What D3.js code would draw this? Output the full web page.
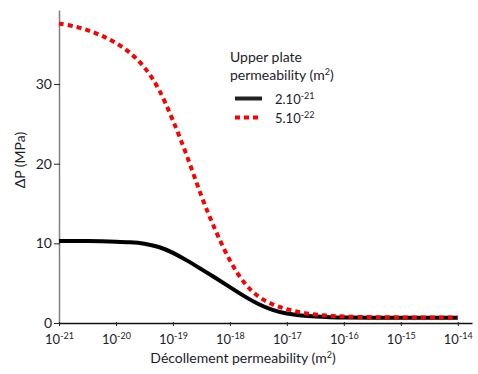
<!DOCTYPE html>
<html>
<head>
<meta charset="utf-8">
<script src="https://cdn.jsdelivr.net/npm/d3@7"></script>
<style>
  body { margin: 0; background: #fff; }
  text { font-family: Lato, "Open Sans", sans-serif; fill: #1c1c2c; }
</style>
</head>
<body>
<div id="chart"></div>
<script>
// exponent of decollement permeability (10^x m2)
const logK = [-21, -20.75, -20.5, -20.25, -20, -19.75, -19.5, -19.25, -19, -18.75, -18.5, -18.25,
  -18, -17.75, -17.5, -17.25, -17, -16.75, -16.5, -16.25, -16, -15.5, -15, -14.5, -14];
// upper plate permeability 2.10^-21
const dpHigh = [10.3, 10.3, 10.3, 10.25, 10.2, 10.15, 10.0, 9.6, 8.85, 7.85, 6.75, 5.65,
  4.5, 3.35, 2.35, 1.6, 1.15, 0.92, 0.8, 0.72, 0.67, 0.65, 0.65, 0.65, 0.65];
// upper plate permeability 5.10^-22
const dpLow = [37.6, 37.3, 36.8, 36.1, 35.2, 34.0, 32.2, 29.6, 25.5, 21.0, 15.8, 11.5,
  7.7, 4.9, 3.2, 2.3, 1.7, 1.3, 1.05, 0.9, 0.8, 0.72, 0.7, 0.7, 0.7];
const xTicks = [-21, -20, -19, -18, -17, -16, -15, -14];
const yTicks = [0, 10, 20, 30];

const W = 478, H = 374;
const svg = d3.select('#chart').append('svg')
  .attr('width', W).attr('height', H);

const x = d3.scaleLog()
  .domain([1e-21, Math.pow(10, -13.75)])
  .range([59, 472]);
const y = d3.scaleLinear()
  .domain([0, 39.3])
  .range([323, 10]);

// y axis (grey line)
const yAx = svg.append('g')
  .attr('transform', 'translate(59,0)')
  .call(d3.axisLeft(y).tickValues(yTicks).tickSize(5).tickSizeOuter(0).tickPadding(2));
yAx.select('.domain').attr('stroke', '#808080').attr('stroke-width', 1.5);
yAx.selectAll('.tick line').attr('stroke', '#222').attr('x2', -5).attr('x1', 1);
yAx.selectAll('.tick text').attr('font-size', 14).attr('fill', '#1c1c2c')
  .attr('font-family', 'Lato, sans-serif');

// x axis
const xAx = svg.append('g')
  .attr('transform', 'translate(0,323)')
  .call(d3.axisBottom(x).tickValues(xTicks.map(e => Math.pow(10, e)))
    .tickSize(3).tickSizeOuter(0).tickPadding(9).tickFormat(''));
xAx.select('.domain').attr('stroke', '#111').attr('stroke-width', 1.3);
xAx.selectAll('.tick line').attr('stroke', '#222').attr('y1', -1);
xAx.selectAll('.tick text')
  .data(xTicks)
  .attr('font-size', 13).attr('font-family', 'Lato, sans-serif').attr('fill', '#1c1c2c')
  .each(function (e) {
    const t = d3.select(this);
    t.append('tspan').text('10');
    t.append('tspan').attr('font-size', 9).attr('dy', -5).text(e);
  });

// curves
const line = (vals) => d3.line()
  .x((d, i) => x(Math.pow(10, logK[i])))
  .y(d => y(d))
  .curve(d3.curveBasis)(vals);

svg.append('path')
  .attr('d', line(dpHigh))
  .attr('fill', 'none')
  .attr('stroke', '#000')
  .attr('stroke-width', 4);

svg.append('path')
  .attr('d', line(dpLow))
  .attr('fill', 'none')
  .attr('stroke', '#ff0000')
  .attr('stroke-width', 4)
  .attr('stroke-dasharray', '5,4');

// axis titles
const xt = svg.append('text')
  .attr('x', 243).attr('y', 363)
  .attr('text-anchor', 'middle')
  .attr('font-size', 14);
xt.append('tspan').text('Décollement permeability (m');
xt.append('tspan').attr('font-size', 9).attr('dy', -5).text('2');
xt.append('tspan').attr('dy', 5).text(')');

svg.append('text')
  .attr('transform', 'translate(25,160) rotate(-90)')
  .attr('text-anchor', 'middle')
  .attr('font-size', 14)
  .text('ΔP (MPa)');

// legend
const lg = svg.append('g');
lg.append('text').attr('x', 230).attr('y', 62).attr('font-size', 14).text('Upper plate');
const l2 = lg.append('text').attr('x', 230).attr('y', 80).attr('font-size', 14);
l2.append('tspan').text('permeability (m');
l2.append('tspan').attr('font-size', 9).attr('dy', -5).text('2');
l2.append('tspan').attr('dy', 5).text(')');

const legendItems = [
  { base: '2.10', exp: '-21', color: '#222', dash: null },
  { base: '5.10', exp: '-22', color: '#ff0000', dash: '5,4' }
];
legendItems.forEach((d, i) => {
  const yy = 98.5 + i * 19;
  lg.append('line')
    .attr('x1', 235).attr('x2', 262).attr('y1', yy).attr('y2', yy)
    .attr('stroke', d.color).attr('stroke-width', 4)
    .attr('stroke-dasharray', d.dash);
  const t = lg.append('text').attr('x', 275).attr('y', yy + 5).attr('font-size', 13);
  t.append('tspan').text(d.base);
  t.append('tspan').attr('font-size', 9).attr('dy', -5).text(d.exp);
});
</script>
</body>
</html>
